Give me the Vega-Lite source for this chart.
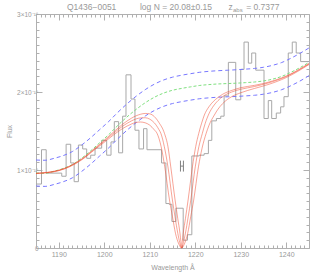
{
  "$schema": "https://vega.github.io/schema/vega-lite/v6.json",
  "autosize": "none",
  "width": 273,
  "height": 234,
  "padding": {"left": 36, "top": 14, "right": 10, "bottom": 31},
  "background": "white",
  "config": {
    "view": {"stroke": null},
    "axis": {"grid": false, "domainColor": "#b0b0b0", "tickColor": "#b0b0b0", "labelColor": "#999999", "titleColor": "#999999", "labelFont": "Liberation Sans", "titleFont": "Liberation Sans", "labelFontSize": 7, "titleFontSize": 7, "titleFontWeight": "normal", "domainWidth": 1, "tickWidth": 1}
  },
  "datasets": {
    "hist": [
      {"lam": 1185.0, "flux": 0.82}, {"lam": 1186.21, "flux": 1.26}, {"lam": 1187.24, "flux": 0.96}, {"lam": 1190.66, "flux": 0.92},
      {"lam": 1191.62, "flux": 1.33}, {"lam": 1192.63, "flux": 1.09}, {"lam": 1193.38, "flux": 0.85}, {"lam": 1194.32, "flux": 1.32},
      {"lam": 1195.26, "flux": 1.27}, {"lam": 1196.14, "flux": 1.15}, {"lam": 1197.02, "flux": 1.19}, {"lam": 1197.98, "flux": 1.28},
      {"lam": 1199.43, "flux": 1.38}, {"lam": 1200.53, "flux": 1.19}, {"lam": 1201.49, "flux": 1.36}, {"lam": 1202.21, "flux": 1.62},
      {"lam": 1203.16, "flux": 1.22}, {"lam": 1204.04, "flux": 1.69}, {"lam": 1204.78, "flux": 2.22}, {"lam": 1205.88, "flux": 1.91},
      {"lam": 1206.75, "flux": 1.51}, {"lam": 1207.63, "flux": 1.27}, {"lam": 1208.64, "flux": 1.53}, {"lam": 1209.39, "flux": 1.26},
      {"lam": 1212.59, "flux": 1.09}, {"lam": 1213.55, "flux": 0.57}, {"lam": 1214.28, "flux": 0.56}, {"lam": 1214.87, "flux": 0.34},
      {"lam": 1215.75, "flux": 0.51}, {"lam": 1217.35, "flux": 0.10}, {"lam": 1218.29, "flux": 0.17}, {"lam": 1219.25, "flux": 1.18},
      {"lam": 1220.86, "flux": 1.19}, {"lam": 1221.95, "flux": 1.21}, {"lam": 1222.89, "flux": 1.38}, {"lam": 1223.64, "flux": 1.63},
      {"lam": 1224.65, "flux": 1.66}, {"lam": 1225.61, "flux": 1.69}, {"lam": 1226.34, "flux": 1.95}, {"lam": 1227.28, "flux": 2.38},
      {"lam": 1228.90, "flux": 1.90}, {"lam": 1230.00, "flux": 2.29}, {"lam": 1230.72, "flux": 2.64}, {"lam": 1231.67, "flux": 2.37},
      {"lam": 1232.41, "flux": 2.50}, {"lam": 1233.29, "flux": 2.28}, {"lam": 1235.11, "flux": 1.66}, {"lam": 1236.05, "flux": 1.89},
      {"lam": 1236.80, "flux": 1.66}, {"lam": 1237.81, "flux": 1.73}, {"lam": 1238.77, "flux": 1.81}, {"lam": 1239.50, "flux": 1.94},
      {"lam": 1240.44, "flux": 2.50}, {"lam": 1241.32, "flux": 2.64}, {"lam": 1242.19, "flux": 2.50}, {"lam": 1243.16, "flux": 2.39},
      {"lam": 1245.0, "flux": 2.39}
    ],
    "cont": [
      {"lam": 1185, "cont": 0.962, "upper": 1.128, "lower": 0.795},
      {"lam": 1187, "cont": 0.958, "upper": 1.125, "lower": 0.790},
      {"lam": 1189, "cont": 0.985, "upper": 1.150, "lower": 0.815},
      {"lam": 1191, "cont": 1.020, "upper": 1.185, "lower": 0.850},
      {"lam": 1193, "cont": 1.070, "upper": 1.237, "lower": 0.900},
      {"lam": 1195, "cont": 1.150, "upper": 1.318, "lower": 0.980},
      {"lam": 1197, "cont": 1.245, "upper": 1.413, "lower": 1.075},
      {"lam": 1199, "cont": 1.350, "upper": 1.518, "lower": 1.180},
      {"lam": 1201, "cont": 1.455, "upper": 1.623, "lower": 1.285},
      {"lam": 1203, "cont": 1.572, "upper": 1.740, "lower": 1.402},
      {"lam": 1205, "cont": 1.680, "upper": 1.848, "lower": 1.510},
      {"lam": 1207, "cont": 1.777, "upper": 1.945, "lower": 1.607},
      {"lam": 1209, "cont": 1.862, "upper": 2.030, "lower": 1.692},
      {"lam": 1211, "cont": 1.932, "upper": 2.100, "lower": 1.762},
      {"lam": 1213, "cont": 1.985, "upper": 2.153, "lower": 1.815},
      {"lam": 1215, "cont": 2.022, "upper": 2.190, "lower": 1.852},
      {"lam": 1217, "cont": 2.046, "upper": 2.215, "lower": 1.876},
      {"lam": 1219, "cont": 2.066, "upper": 2.235, "lower": 1.896},
      {"lam": 1221, "cont": 2.084, "upper": 2.253, "lower": 1.914},
      {"lam": 1223, "cont": 2.095, "upper": 2.265, "lower": 1.925},
      {"lam": 1225, "cont": 2.103, "upper": 2.273, "lower": 1.933},
      {"lam": 1227, "cont": 2.108, "upper": 2.279, "lower": 1.938},
      {"lam": 1229, "cont": 2.113, "upper": 2.285, "lower": 1.943},
      {"lam": 1231, "cont": 2.120, "upper": 2.293, "lower": 1.950},
      {"lam": 1233, "cont": 2.128, "upper": 2.302, "lower": 1.958},
      {"lam": 1235, "cont": 2.142, "upper": 2.317, "lower": 1.972},
      {"lam": 1237, "cont": 2.165, "upper": 2.342, "lower": 1.995},
      {"lam": 1239, "cont": 2.200, "upper": 2.378, "lower": 2.030},
      {"lam": 1241, "cont": 2.252, "upper": 2.432, "lower": 2.080},
      {"lam": 1243, "cont": 2.312, "upper": 2.495, "lower": 2.140},
      {"lam": 1245, "cont": 2.380, "upper": 2.565, "lower": 2.210}
    ],
    "model": [
      {"curve": "high", "lam": 1185, "f": 0.954}, {"curve": "high", "lam": 1190, "f": 0.991}, {"curve": "high", "lam": 1195, "f": 1.128},
      {"curve": "high", "lam": 1198, "f": 1.265}, {"curve": "high", "lam": 1200, "f": 1.355}, {"curve": "high", "lam": 1202, "f": 1.448},
      {"curve": "high", "lam": 1204, "f": 1.53}, {"curve": "high", "lam": 1206, "f": 1.59}, {"curve": "high", "lam": 1207, "f": 1.61},
      {"curve": "high", "lam": 1208, "f": 1.615}, {"curve": "high", "lam": 1209, "f": 1.605}, {"curve": "high", "lam": 1210, "f": 1.575},
      {"curve": "high", "lam": 1211, "f": 1.515}, {"curve": "high", "lam": 1211.6, "f": 1.47}, {"curve": "high", "lam": 1212.5, "f": 1.3},
      {"curve": "high", "lam": 1213.3, "f": 1.04}, {"curve": "high", "lam": 1214.34, "f": 0.615}, {"curve": "high", "lam": 1215, "f": 0.4},
      {"curve": "high", "lam": 1215.65, "f": 0.19}, {"curve": "high", "lam": 1216.4, "f": 0.05}, {"curve": "high", "lam": 1217.0, "f": 0.0},
      {"curve": "high", "lam": 1217.6, "f": 0.05}, {"curve": "high", "lam": 1218.35, "f": 0.19}, {"curve": "high", "lam": 1219.0, "f": 0.4},
      {"curve": "high", "lam": 1219.66, "f": 0.615}, {"curve": "high", "lam": 1220.7, "f": 1.04}, {"curve": "high", "lam": 1221.5, "f": 1.28},
      {"curve": "high", "lam": 1222.4, "f": 1.47}, {"curve": "high", "lam": 1223, "f": 1.57}, {"curve": "high", "lam": 1224.2, "f": 1.705},
      {"curve": "high", "lam": 1225, "f": 1.78}, {"curve": "high", "lam": 1226, "f": 1.85}, {"curve": "high", "lam": 1228, "f": 1.94},
      {"curve": "high", "lam": 1230, "f": 1.99}, {"curve": "high", "lam": 1233, "f": 2.045}, {"curve": "high", "lam": 1236, "f": 2.095},
      {"curve": "high", "lam": 1240, "f": 2.185}, {"curve": "high", "lam": 1245, "f": 2.352},

      {"curve": "best", "lam": 1185, "f": 0.956}, {"curve": "best", "lam": 1190, "f": 0.994}, {"curve": "best", "lam": 1195, "f": 1.135},
      {"curve": "best", "lam": 1198, "f": 1.275}, {"curve": "best", "lam": 1200, "f": 1.37}, {"curve": "best", "lam": 1202, "f": 1.468},
      {"curve": "best", "lam": 1204, "f": 1.56}, {"curve": "best", "lam": 1206, "f": 1.63}, {"curve": "best", "lam": 1207, "f": 1.655},
      {"curve": "best", "lam": 1208, "f": 1.668}, {"curve": "best", "lam": 1209, "f": 1.67}, {"curve": "best", "lam": 1210, "f": 1.652},
      {"curve": "best", "lam": 1211, "f": 1.605}, {"curve": "best", "lam": 1212, "f": 1.52}, {"curve": "best", "lam": 1212.44, "f": 1.47},
      {"curve": "best", "lam": 1213.2, "f": 1.3}, {"curve": "best", "lam": 1214, "f": 1.04}, {"curve": "best", "lam": 1214.98, "f": 0.615},
      {"curve": "best", "lam": 1215.55, "f": 0.4}, {"curve": "best", "lam": 1216.16, "f": 0.19}, {"curve": "best", "lam": 1216.6, "f": 0.07},
      {"curve": "best", "lam": 1217.0, "f": 0.0}, {"curve": "best", "lam": 1217.4, "f": 0.07}, {"curve": "best", "lam": 1217.84, "f": 0.19},
      {"curve": "best", "lam": 1218.45, "f": 0.4}, {"curve": "best", "lam": 1219.02, "f": 0.615}, {"curve": "best", "lam": 1220.0, "f": 1.04},
      {"curve": "best", "lam": 1220.8, "f": 1.3}, {"curve": "best", "lam": 1221.56, "f": 1.47}, {"curve": "best", "lam": 1222.2, "f": 1.6},
      {"curve": "best", "lam": 1223, "f": 1.72}, {"curve": "best", "lam": 1224, "f": 1.82}, {"curve": "best", "lam": 1225, "f": 1.89},
      {"curve": "best", "lam": 1226, "f": 1.94}, {"curve": "best", "lam": 1228, "f": 2.0}, {"curve": "best", "lam": 1230, "f": 2.035},
      {"curve": "best", "lam": 1233, "f": 2.07}, {"curve": "best", "lam": 1236, "f": 2.115}, {"curve": "best", "lam": 1240, "f": 2.198},
      {"curve": "best", "lam": 1245, "f": 2.36},

      {"curve": "low", "lam": 1185, "f": 0.958}, {"curve": "low", "lam": 1190, "f": 0.997}, {"curve": "low", "lam": 1195, "f": 1.14},
      {"curve": "low", "lam": 1198, "f": 1.282}, {"curve": "low", "lam": 1200, "f": 1.382}, {"curve": "low", "lam": 1202, "f": 1.485},
      {"curve": "low", "lam": 1204, "f": 1.585}, {"curve": "low", "lam": 1206, "f": 1.665}, {"curve": "low", "lam": 1207, "f": 1.695},
      {"curve": "low", "lam": 1208, "f": 1.715}, {"curve": "low", "lam": 1209, "f": 1.725}, {"curve": "low", "lam": 1210, "f": 1.72},
      {"curve": "low", "lam": 1211, "f": 1.685}, {"curve": "low", "lam": 1212, "f": 1.61}, {"curve": "low", "lam": 1213.23, "f": 1.47},
      {"curve": "low", "lam": 1214, "f": 1.3}, {"curve": "low", "lam": 1214.62, "f": 1.04}, {"curve": "low", "lam": 1215.57, "f": 0.615},
      {"curve": "low", "lam": 1216.15, "f": 0.38}, {"curve": "low", "lam": 1216.64, "f": 0.19}, {"curve": "low", "lam": 1216.85, "f": 0.08},
      {"curve": "low", "lam": 1217.0, "f": 0.0}, {"curve": "low", "lam": 1217.15, "f": 0.08}, {"curve": "low", "lam": 1217.36, "f": 0.19},
      {"curve": "low", "lam": 1217.85, "f": 0.38}, {"curve": "low", "lam": 1218.43, "f": 0.615}, {"curve": "low", "lam": 1219.38, "f": 1.04},
      {"curve": "low", "lam": 1220.1, "f": 1.3}, {"curve": "low", "lam": 1220.77, "f": 1.47}, {"curve": "low", "lam": 1221.4, "f": 1.6},
      {"curve": "low", "lam": 1222, "f": 1.705}, {"curve": "low", "lam": 1223, "f": 1.81}, {"curve": "low", "lam": 1224, "f": 1.88},
      {"curve": "low", "lam": 1225, "f": 1.93}, {"curve": "low", "lam": 1226, "f": 1.97}, {"curve": "low", "lam": 1228, "f": 2.02},
      {"curve": "low", "lam": 1230, "f": 2.055}, {"curve": "low", "lam": 1233, "f": 2.085}, {"curve": "low", "lam": 1236, "f": 2.125},
      {"curve": "low", "lam": 1240, "f": 2.205}, {"curve": "low", "lam": 1245, "f": 2.366}
    ],
    "errv": [
      {"lam": 1216.75, "lo": 0.98, "hi": 1.12},
      {"lam": 1217.4, "lo": 0.98, "hi": 1.12}
    ],
    "errh": [
      {"lam": 1216.75, "lam2": 1217.4, "f": 1.05}
    ],
    "head": [
      {"head": "Q1436−0051\u00a0\u00a0\u00a0\u00a0\u00a0\u00a0\u00a0\u00a0\u00a0\u00a0log N = 20.08±0.15\u00a0\u00a0\u00a0\u00a0\u00a0\u00a0\u00a0z"}
    ],
    "sub": [
      {"sub": "abs"}
    ],
    "zval": [
      {"zval": "= 0.7377"}
    ]
  },
  "resolve": {"axis": {"x": "independent", "y": "independent"}},
  "layer": [
    {
      "data": {"name": "hist"},
      "mark": {"type": "line", "interpolate": "step-after", "color": "#a8a8a8", "strokeWidth": 1, "clip": true},
      "encoding": {
        "x": {"field": "lam", "type": "quantitative", "scale": {"domain": [1185, 1245], "nice": false, "zero": false},
          "axis": {"orient": "bottom", "title": "Wavelength Å", "titlePadding": 3,
            "values": [1185,1186,1187,1188,1189,1190,1191,1192,1193,1194,1195,1196,1197,1198,1199,1200,1201,1202,1203,1204,1205,1206,1207,1208,1209,1210,1211,1212,1213,1214,1215,1216,1217,1218,1219,1220,1221,1222,1223,1224,1225,1226,1227,1228,1229,1230,1231,1232,1233,1234,1235,1236,1237,1238,1239,1240,1241,1242,1243,1244,1245],
            "tickSize": {"condition": {"test": "datum.value % 10 === 0", "value": -6}, "value": -3},
            "labelExpr": "datum.value % 10 === 0 ? '' + datum.value : ''", "labelPadding": 8, "labelFlush": false, "labelOverlap": false}},
        "y": {"field": "flux", "type": "quantitative", "scale": {"domain": [0, 3], "nice": false},
          "axis": {"orient": "left", "title": "Flux", "titlePadding": 4,
            "values": [0,0.1,0.2,0.3,0.4,0.5,0.6,0.7,0.8,0.9,1,1.1,1.2,1.3,1.4,1.5,1.6,1.7,1.8,1.9,2,2.1,2.2,2.3,2.4,2.5,2.6,2.7,2.8,2.9,3],
            "tickSize": {"condition": {"test": "abs(datum.value - round(datum.value)) < 0.001", "value": -6}, "value": -3},
            "labelExpr": "abs(datum.value - round(datum.value)) < 0.001 ? (datum.value == 0 ? '0' : round(datum.value) + '×10⁻¹⁶') : ''", "labelPadding": 4, "labelFlush": false, "labelOverlap": false, "labelFontSize": 6.5}}
      }
    },
    {
      "data": {"name": "cont"},
      "mark": {"type": "line", "interpolate": "monotone", "color": "#7878ff", "strokeWidth": 1, "strokeDash": [4, 3]},
      "encoding": {
        "x": {"field": "lam", "type": "quantitative", "scale": {"domain": [1185, 1245], "nice": false, "zero": false},
          "axis": {"orient": "top", "title": null, "labels": false,
            "values": [1185,1186,1187,1188,1189,1190,1191,1192,1193,1194,1195,1196,1197,1198,1199,1200,1201,1202,1203,1204,1205,1206,1207,1208,1209,1210,1211,1212,1213,1214,1215,1216,1217,1218,1219,1220,1221,1222,1223,1224,1225,1226,1227,1228,1229,1230,1231,1232,1233,1234,1235,1236,1237,1238,1239,1240,1241,1242,1243,1244,1245],
            "tickSize": {"condition": {"test": "datum.value % 10 === 0", "value": -6}, "value": -3}}},
        "y": {"field": "upper", "type": "quantitative", "scale": {"domain": [0, 3], "nice": false},
          "axis": {"orient": "right", "title": null, "labels": false,
            "values": [0,0.1,0.2,0.3,0.4,0.5,0.6,0.7,0.8,0.9,1,1.1,1.2,1.3,1.4,1.5,1.6,1.7,1.8,1.9,2,2.1,2.2,2.3,2.4,2.5,2.6,2.7,2.8,2.9,3],
            "tickSize": {"condition": {"test": "abs(datum.value - round(datum.value)) < 0.001", "value": -6}, "value": -3}}}
      }
    },
    {
      "data": {"name": "cont"},
      "mark": {"type": "line", "interpolate": "monotone", "color": "#7878ff", "strokeWidth": 1, "strokeDash": [4, 3]},
      "encoding": {
        "x": {"field": "lam", "type": "quantitative", "axis": null},
        "y": {"field": "lower", "type": "quantitative", "axis": null}
      }
    },
    {
      "data": {"name": "cont"},
      "mark": {"type": "line", "interpolate": "monotone", "color": "#80e080", "strokeWidth": 1, "strokeDash": [3, 2]},
      "encoding": {
        "x": {"field": "lam", "type": "quantitative", "axis": null},
        "y": {"field": "cont", "type": "quantitative", "axis": null}
      }
    },
    {
      "data": {"name": "model"},
      "mark": {"type": "line", "interpolate": "monotone", "color": "#f04a30", "strokeWidth": 1, "opacity": 0.5},
      "encoding": {
        "x": {"field": "lam", "type": "quantitative", "axis": null},
        "y": {"field": "f", "type": "quantitative", "axis": null},
        "detail": {"field": "curve"}
      }
    },
    {
      "data": {"name": "errv"},
      "mark": {"type": "rule", "color": "#808080", "strokeWidth": 1},
      "encoding": {
        "x": {"field": "lam", "type": "quantitative", "axis": null},
        "y": {"field": "lo", "type": "quantitative", "axis": null},
        "y2": {"field": "hi"}
      }
    },
    {
      "data": {"name": "errh"},
      "mark": {"type": "rule", "color": "#808080", "strokeWidth": 1},
      "encoding": {
        "x": {"field": "lam", "type": "quantitative", "axis": null},
        "x2": {"field": "lam2"},
        "y": {"field": "f", "type": "quantitative", "axis": null}
      }
    },
    {
      "data": {"name": "head"},
      "mark": {"type": "text", "font": "Liberation Sans", "fontSize": 8.5, "color": "#999999", "align": "left", "baseline": "alphabetic", "clip": false},
      "encoding": {
        "text": {"field": "head"},
        "x": {"datum": 1191.8, "type": "quantitative", "axis": null},
        "y": {"datum": 3.045, "type": "quantitative", "axis": null}
      }
    },
    {
      "data": {"name": "sub"},
      "mark": {"type": "text", "font": "Liberation Sans", "fontSize": 6, "color": "#999999", "align": "left", "baseline": "alphabetic", "clip": false},
      "encoding": {
        "text": {"field": "sub"},
        "x": {"datum": 1228.3, "type": "quantitative", "axis": null},
        "y": {"datum": 3.03, "type": "quantitative", "axis": null}
      }
    },
    {
      "data": {"name": "zval"},
      "mark": {"type": "text", "font": "Liberation Sans", "fontSize": 8.5, "color": "#999999", "align": "left", "baseline": "alphabetic", "clip": false},
      "encoding": {
        "text": {"field": "zval"},
        "x": {"datum": 1231.2, "type": "quantitative", "axis": null},
        "y": {"datum": 3.045, "type": "quantitative", "axis": null}
      }
    }
  ]
}
